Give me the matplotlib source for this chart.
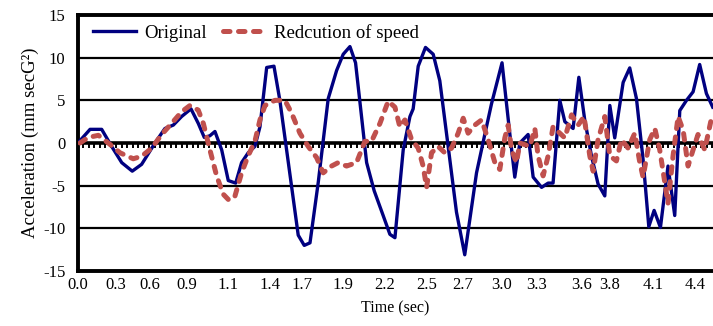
import numpy as np
import matplotlib
matplotlib.use("Agg")
import matplotlib.pyplot as plt

plt.rcParams['font.family'] = ['Liberation Serif', 'DejaVu Serif']
plt.rcParams['axes.unicode_minus'] = False

# --- data (time in s, acceleration) ---
t_orig = [0.01, 0.086, 0.169, 0.240, 0.312, 0.387, 0.454, 0.549, 0.620, 0.680,
          0.739, 0.806, 0.858, 0.901, 0.941, 0.977, 1.025, 1.072, 1.125, 1.167,
          1.214, 1.262, 1.298, 1.346, 1.398, 1.440, 1.571, 1.614, 1.655, 1.714,
          1.785, 1.845, 1.892, 1.940, 1.980, 2.018, 2.059, 2.113, 2.177, 2.225,
          2.261, 2.320, 2.368, 2.391, 2.427, 2.479, 2.534, 2.581, 2.636, 2.700,
          2.759, 2.843, 2.902, 2.950, 3.025, 3.080, 3.116, 3.152, 3.211, 3.247,
          3.307, 3.354, 3.389, 3.437, 3.473, 3.532, 3.573, 3.615, 3.663, 3.710,
          3.758, 3.794, 3.829, 3.889, 3.936, 3.984, 4.031, 4.072, 4.110, 4.155,
          4.209, 4.257, 4.293, 4.341, 4.388, 4.435, 4.483, 4.528]
a_orig = [0.2, 1.6, 1.6, -0.4, -2.3, -3.3, -2.5, 0.0, 1.7, 2.1,
          3.1, 4.0, 2.3, 0.65, 0.85, 1.35, -0.8, -4.4, -4.7, -2.3,
          -1.15, -0.4, 1.9, 8.85, 9.0, 5.0, -10.8, -12.0, -11.7, -4.6,
          5.2, 8.5, 10.4, 11.3, 9.4, 3.8, -2.3, -5.6, -8.5, -10.7,
          -11.1, -0.8, 3.1, 4.0, 9.0, 11.2, 10.4, 7.3, 0.2, -8.1,
          -13.1, -3.5, 1.0, 4.6, 9.4, 1.15, -4.0, 0.0, 1.0, -4.0,
          -5.2, -4.7, -4.7, 5.0, 2.5, 1.7, 7.7, 2.7, -1.5, -4.8,
          -6.2, 4.4, 0.6, 7.1, 8.8, 5.2, -1.9, -9.8, -7.9, -9.9,
          -2.7, -8.5, 3.8, 5.0, 6.0, 9.2, 5.8, 4.2]

t_red = [0.014, 0.073, 0.145, 0.216, 0.300, 0.394, 0.454, 0.526, 0.597, 0.668,
         0.739, 0.799, 0.858, 0.894, 0.941, 0.989, 1.036, 1.077, 1.120, 1.167,
         1.214, 1.262, 1.298, 1.334, 1.405, 1.476, 1.524, 1.583, 1.642, 1.702,
         1.749, 1.809, 1.856, 1.916, 1.987, 2.047, 2.094, 2.154, 2.213, 2.261,
         2.296, 2.332, 2.380, 2.427, 2.462, 2.487, 2.522, 2.569, 2.617, 2.665,
         2.712, 2.748, 2.783, 2.831, 2.879, 2.926, 2.974, 3.009, 3.045, 3.069,
         3.093, 3.128, 3.152, 3.188, 3.223, 3.259, 3.282, 3.318, 3.354, 3.389,
         3.437, 3.473, 3.521, 3.568, 3.610, 3.651, 3.675, 3.710, 3.758, 3.794,
         3.841, 3.877, 3.924, 3.972, 4.008, 4.031, 4.079, 4.115, 4.150, 4.186,
         4.209, 4.245, 4.281, 4.317, 4.352, 4.388, 4.423, 4.471, 4.519]
a_red = [0.0, 0.65, 0.9, 0.0, -1.15, -1.85, -1.55, -0.6, 1.0, 2.3,
         3.65, 4.4, 3.85, 2.3, -0.8, -3.85, -6.0, -6.7, -6.2, -3.5,
         -1.5, 0.2, 2.7, 4.4, 5.0, 5.0, 3.5, 1.15, -0.4, -1.7,
         -3.5, -2.7, -2.3, -2.7, -2.3, 0.2, 0.2, 2.3, 4.9, 4.2,
         1.9, 2.7, 0.4, -0.6, -2.7, -5.2, -1.15, -0.4, -1.15, -0.6,
         1.15, 2.9, 1.15, 2.1, 2.7, 0.4, -2.3, -3.1, 0.6, 2.1,
         -0.8, -2.3, 0.0, -0.2, -0.4, 1.7, -1.5, -3.85, -1.5, 1.9,
         1.15, 0.6, 3.3, 2.1, 3.1, -1.5, -3.3, 0.4, 3.1, -1.5,
         -2.1, 0.4, -0.6, 1.15, -2.3, -4.0, 0.4, 1.7, -0.8, -4.6,
         -7.1, -1.5, 3.1, 1.5, -2.7, -0.8, 1.0, -0.8, 2.9]

# category labels as they sit under the axis
xtick_labels = ['0.0', '0.3', '0.6', '0.9', '1.1', '1.4', '1.7', '1.9', '2.2',
                '2.5', '2.7', '3.0', '3.3', '3.6', '3.8', '4.1', '4.4']
xtick_pos = [0.0, 0.271, 0.513, 0.777, 1.070, 1.369, 1.597, 1.889, 2.189,
             2.489, 2.746, 3.024, 3.274, 3.595, 3.794, 4.101, 4.400]

# --------------------

fig = plt.figure(figsize=(7.13, 3.26), dpi=100)
ax = fig.add_axes([78/713, 1 - 271/326, 1 - 78/713, 256/326])

ax.plot(t_orig, a_orig, color='#000080', lw=2.4, label='Original', zorder=3)
ax.plot(t_red, a_red, color='#C0504D', lw=3.6, ls=(0, (1.3, 1.7)),
        dash_capstyle='round', label='Redcution of speed', zorder=4)

ax.set_xlim(0, 4.53)
ax.set_ylim(-15, 15)

# black grid lines
for yv in [-10, -5, 5, 10]:
    ax.axhline(yv, color='black', lw=1.6, zorder=1)

# horizontal axis crossing at zero, with small category tick marks below it
ax.axhline(0, color='black', lw=2.6, zorder=2)
cat_ticks = np.arange(0, 4.53, 0.039)
ax.vlines(cat_ticks, -0.6, 0, color='black', lw=1.4, zorder=2)

ax.spines['right'].set_visible(False)
for s in ['top', 'bottom', 'left']:
    ax.spines[s].set_linewidth(2.8)

ax.set_yticks([-15, -10, -5, 0, 5, 10, 15])
ax.tick_params(axis='y', length=0, pad=9, labelsize=12)
ax.set_xticks(xtick_pos)
ax.set_xticklabels(xtick_labels)
ax.tick_params(axis='x', length=0, pad=4, labelsize=12)

ax.set_xlabel('Time (sec)', fontsize=11.5, labelpad=6)
ax.set_ylabel('Acceleration (mm secG²)', fontsize=13.5, labelpad=3)

ax.legend(loc='center left', bbox_to_anchor=(0.024, 0.93), ncol=2, frameon=False,
          fontsize=13.5, handlelength=2.3, handletextpad=0.4, columnspacing=0.9,
          borderpad=0, borderaxespad=0)

fig.savefig('out.png', dpi=100)
